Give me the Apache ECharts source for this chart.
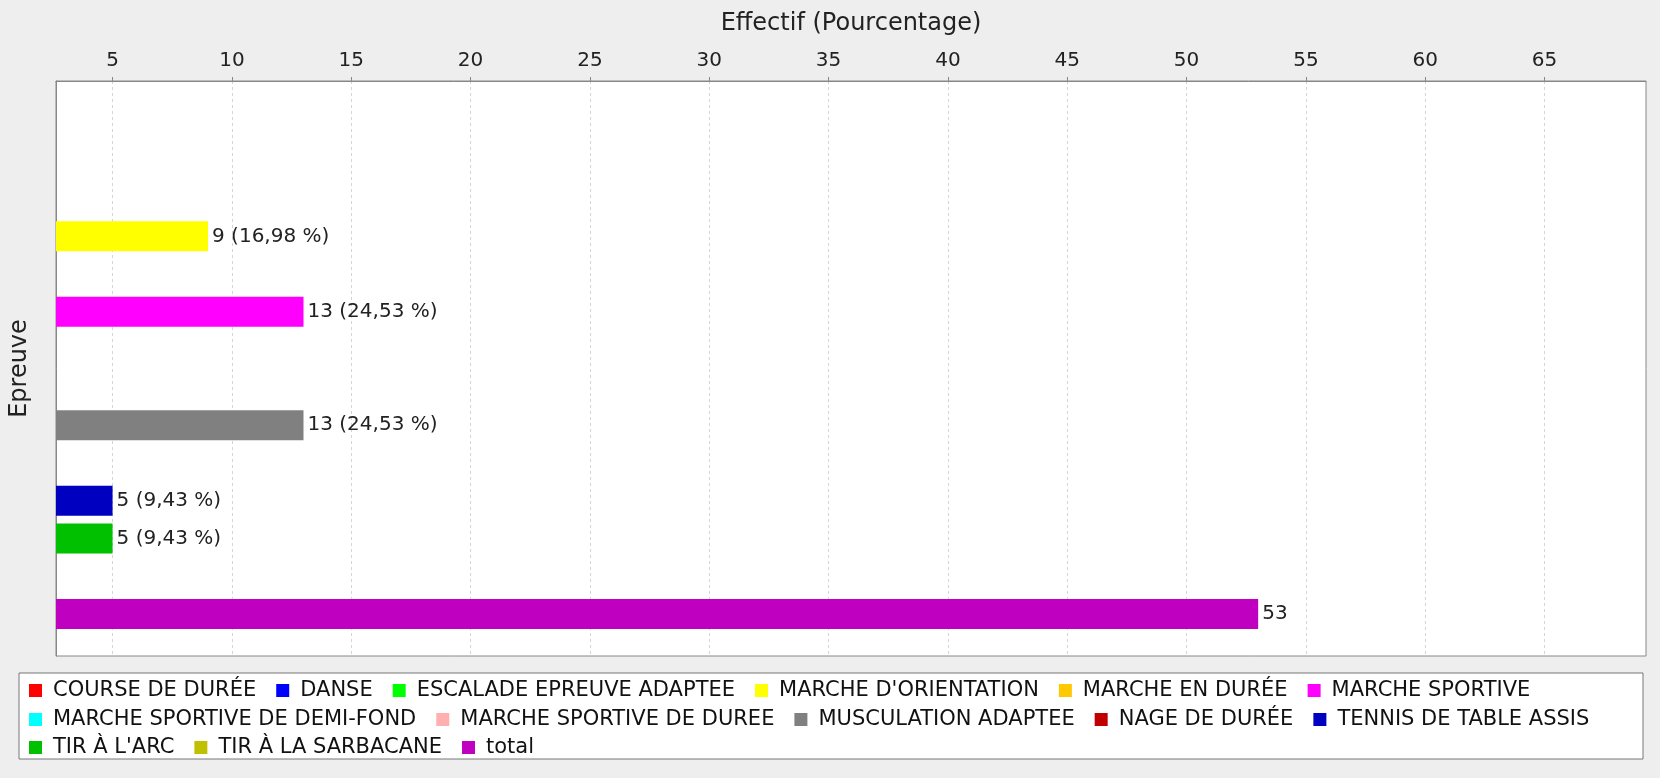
<!DOCTYPE html>
<html><head><meta charset="utf-8">
<script src="https://cdn.jsdelivr.net/npm/echarts@6/dist/echarts.min.js"></script>
<style>html,body{margin:0;padding:0;background:#eeeeee}#c{width:1660px;height:778px}</style>
</head><body><div id="c"></div>
<script>
const seriesNames = ["COURSE DE DURÉE","DANSE","ESCALADE EPREUVE ADAPTEE","MARCHE D'ORIENTATION","MARCHE EN DURÉE","MARCHE SPORTIVE","MARCHE SPORTIVE DE DEMI-FOND","MARCHE SPORTIVE DE DUREE","MUSCULATION ADAPTEE","NAGE DE DURÉE","TENNIS DE TABLE ASSIS","TIR À L'ARC","TIR À LA SARBACANE","total"];
const seriesValues = [null,null,null,9,null,13,null,null,13,null,5,5,null,53];
const seriesColors = ["#ff0000","#0000ff","#00ff00","#ffff00","#ffc800","#ff00ff","#00ffff","#ffafaf","#808080","#c00000","#0000c0","#00c000","#c0c000","#c000c0"];
const categories = [""];
const tickValues = [5,10,15,20,25,30,35,40,45,50,55,60,65];
const axisMin = 2.63, axisMax = 69.25;
const totalName = "total";
const xAxisTitle = "Effectif (Pourcentage)";
const yAxisTitle = "Epreuve";

const total = seriesValues[seriesNames.indexOf(totalName)];
const FONT = "DejaVu Sans";

const series = seriesNames.map((name, i) => ({
  name, type: 'bar', data: [seriesValues[i]],
  barWidth: 30, barGap: '25.9%',
  itemStyle: { color: seriesColors[i] },
  label: {
    show: true, position: 'right', distance: 4,
    fontFamily: FONT, fontSize: 20, color: '#222',
    formatter: p => name === totalName ? String(p.value)
      : p.value + ' (' + (p.value / total * 100).toFixed(2).replace('.', ',') + ' %)'
  }
}));

const legendRows = [seriesNames.slice(0,6), seriesNames.slice(6,11), seriesNames.slice(11)];
const rowCenters = [691, 720, 748];
const legends = legendRows.map((row, r) => ({
  data: row, left: 29, top: rowCenters[r] - 11, orient: 'horizontal',
  itemWidth: 13, itemHeight: 13, itemGap: 20, icon: 'rect', padding: 0,
  selectedMode: false,
  textStyle: { fontFamily: FONT, fontSize: 21, color: '#111', padding: [0,0,0,6] }
}));

const chart = echarts.init(document.getElementById('c'));
chart.setOption({
  animation: false,
  backgroundColor: '#eeeeee',
  textStyle: { fontFamily: FONT },
  graphic: [{
    type: 'rect', z: -1,
    shape: { x: 19, y: 673, width: 1624, height: 86 },
    style: { fill: '#ffffff', stroke: '#777777', lineWidth: 1 }
  }],
  grid: { left: 55, right: 14, top: 81, bottom: 122, show: true, backgroundColor: '#ffffff', borderColor: '#888888', borderWidth: 1 },
  xAxis: {
    type: 'value', position: 'top', min: axisMin, max: axisMax, splitNumber: 13,
    name: xAxisTitle, nameLocation: 'middle', nameGap: 45,
    nameTextStyle: { fontFamily: FONT, fontSize: 24, color: '#222' },
    axisLine: { show: true, lineStyle: { color: '#888888' } },
    axisTick: { show: true, length: 4, customValues: tickValues, lineStyle: { color: '#888888' } },
    axisLabel: { customValues: tickValues, margin: 10, fontFamily: FONT, fontSize: 20, color: '#222' },
    splitLine: { show: true, lineStyle: { color: '#d4d4d4', type: [3, 3] } }
  },
  yAxis: {
    type: 'category', data: categories,
    name: yAxisTitle, nameLocation: 'middle', nameGap: 24, nameRotate: 90,
    nameTextStyle: { fontFamily: FONT, fontSize: 24, color: '#222' },
    axisLine: { show: true, lineStyle: { color: '#888888' } },
    axisTick: { show: false }, axisLabel: { show: false }, splitLine: { show: false }
  },
  legend: legends,
  series
});
</script></body></html>
